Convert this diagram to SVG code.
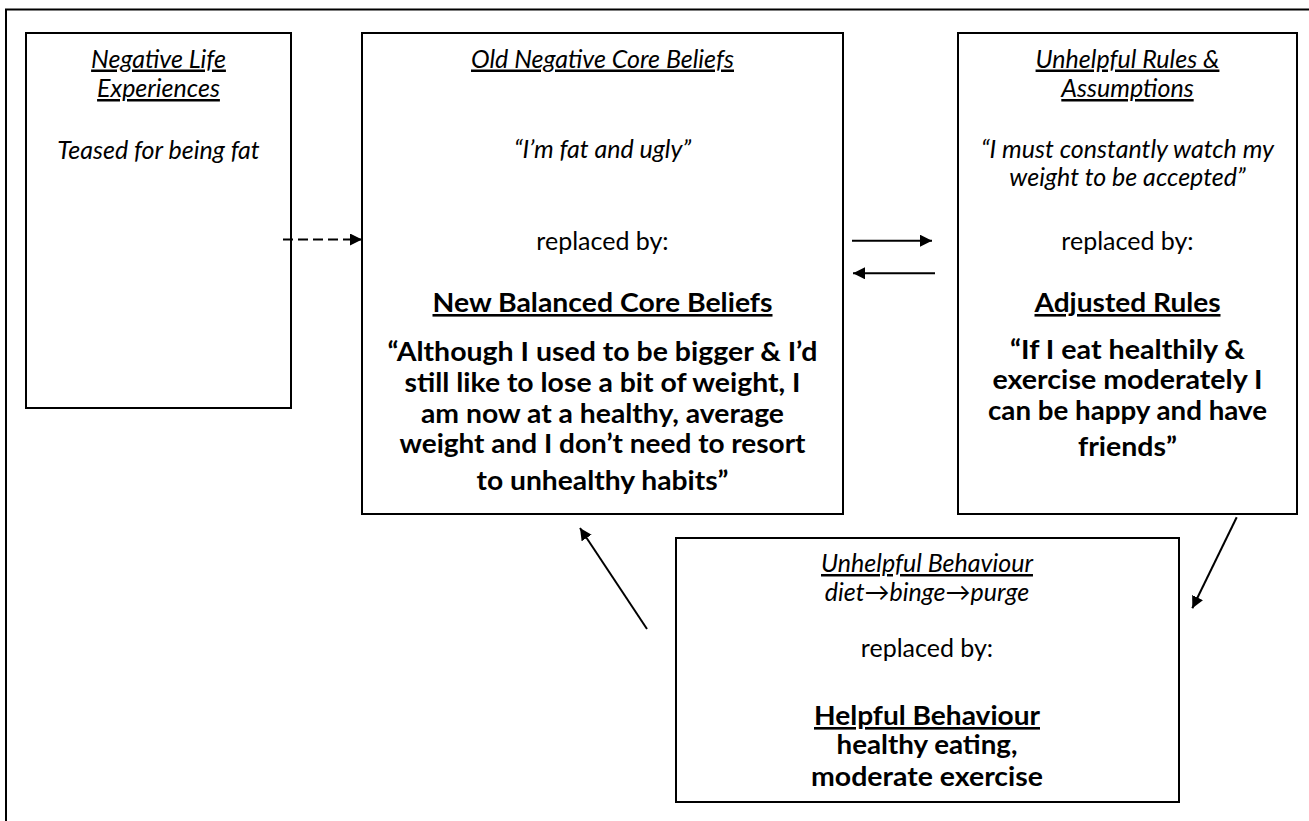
<svg xmlns="http://www.w3.org/2000/svg" width="1309" height="821" viewBox="0 0 1309 821">
<style>
.box{fill:#fff;stroke:#000;stroke-width:2}
text{font-family:Lato,"Open Sans","DejaVu Sans",sans-serif;font-size:25px;fill:#000;text-anchor:middle}
.it{font-style:italic}
.u{text-decoration:underline}
.b{font-weight:bold;font-size:26px}
.c{fill:none;stroke:#000;stroke-width:2}
</style>
<defs>
<marker id="ah" viewBox="0 0 12 12" refX="12" refY="6" markerWidth="6" markerHeight="6" markerUnits="strokeWidth" orient="auto">
<path d="M0,0 L12,6 L0,12 Z" fill="#000"/>
</marker>
</defs>
<rect width="1309" height="821" fill="#fff"/>
<path id="frame" d="M6,830 V9.5 H1320" fill="none" stroke="#000" stroke-width="2"/>

<g id="node-life">
<rect class="box" x="26" y="33" width="265" height="375"/>
<text class="it u" x="158.5" y="67.5">Negative Life</text>
<text class="it u" x="158.5" y="97">Experiences</text>
<text class="it" x="158.5" y="159">Teased for being fat</text>
</g>

<g id="node-core">
<rect class="box" x="362" y="33" width="481" height="481"/>
<text class="it u" x="602.5" y="67.5">Old Negative Core Beliefs</text>
<text class="it" x="602.5" y="158">“I’m fat and ugly”</text>
<text x="602.5" y="250">replaced by:</text>
<text class="b u" x="602.5" y="312" textLength="340" lengthAdjust="spacingAndGlyphs">New Balanced Core Beliefs</text>
<text class="b" x="602.5" y="361" textLength="430" lengthAdjust="spacingAndGlyphs">“Although I used to be bigger &amp; I’d</text>
<text class="b" x="602.5" y="392" textLength="396" lengthAdjust="spacingAndGlyphs">still like to lose a bit of weight, I</text>
<text class="b" x="602.5" y="423" textLength="363" lengthAdjust="spacingAndGlyphs">am now at a healthy, average</text>
<text class="b" x="602.5" y="453" textLength="406" lengthAdjust="spacingAndGlyphs">weight and I don’t need to resort</text>
<text class="b" x="602.5" y="490" textLength="252" lengthAdjust="spacingAndGlyphs">to unhealthy habits”</text>
</g>

<g id="node-rules">
<rect class="box" x="958" y="33" width="339" height="481"/>
<text class="it u" x="1127.5" y="67.5">Unhelpful Rules &amp;</text>
<text class="it u" x="1127.5" y="97">Assumptions</text>
<text class="it" x="1127.5" y="158">“I must constantly watch my</text>
<text class="it" x="1127.5" y="186">weight to be accepted”</text>
<text x="1127.5" y="250">replaced by:</text>
<text class="b u" x="1127.5" y="312" textLength="186" lengthAdjust="spacingAndGlyphs">Adjusted Rules</text>
<text class="b" x="1127.5" y="359" textLength="235" lengthAdjust="spacingAndGlyphs">“If I eat healthily &amp;</text>
<text class="b" x="1127.5" y="389" textLength="270" lengthAdjust="spacingAndGlyphs">exercise moderately I</text>
<text class="b" x="1127.5" y="420" textLength="279" lengthAdjust="spacingAndGlyphs">can be happy and have</text>
<text class="b" x="1127.5" y="456" textLength="99" lengthAdjust="spacingAndGlyphs">friends”</text>
</g>

<g id="node-behaviour">
<rect class="box" x="676" y="538" width="503" height="264"/>
<text class="it u" x="927" y="572">Unhelpful Behaviour</text>
<text class="it" x="927" y="601">diet→binge→purge</text>
<text x="927" y="657">replaced by:</text>
<text class="b u" x="927" y="725" textLength="226" lengthAdjust="spacingAndGlyphs">Helpful Behaviour</text>
<text class="b" x="927" y="754" textLength="181" lengthAdjust="spacingAndGlyphs">healthy eating,</text>
<text class="b" x="927" y="786" textLength="232" lengthAdjust="spacingAndGlyphs">moderate exercise</text>
</g>

<g id="connectors">
<line class="c" x1="283" y1="239.5" x2="362" y2="239.5" stroke-width="2.3" stroke-dasharray="10,5" marker-end="url(#ah)"/>
<line class="c" x1="852" y1="240.7" x2="932" y2="240.7" marker-end="url(#ah)"/>
<line class="c" x1="935" y1="273.3" x2="853" y2="273.3" marker-end="url(#ah)"/>
<line class="c" x1="1236.7" y1="517.3" x2="1192.3" y2="608.3" marker-end="url(#ah)"/>
<line class="c" x1="647" y1="629" x2="580" y2="528" marker-end="url(#ah)"/>
</g>
</svg>
